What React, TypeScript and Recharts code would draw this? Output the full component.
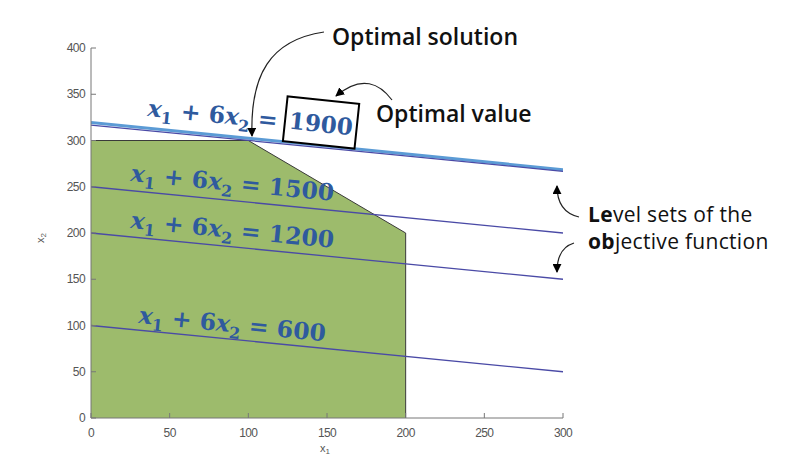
import React from "react";
import { ComposedChart, Line, Area, XAxis, YAxis } from "recharts";

const xTicks = [0, 50, 100, 150, 200, 250, 300];
const yTicks = [0, 50, 100, 150, 200, 250, 300, 350, 400];

const feasibleFill = [
  { x: 0, y: 300 },
  { x: 100, y: 300 },
  { x: 200, y: 200 },
];
const feasibleEdge = [
  { x: 0, y: 300 },
  { x: 100, y: 300 },
  { x: 200, y: 200 },
  { x: 200, y: 0 },
];
const level600 = [
  { x: 0, y: 100 },
  { x: 300, y: 50 },
];
const level1200 = [
  { x: 0, y: 200 },
  { x: 300, y: 150 },
];
const level1500 = [
  { x: 0, y: 250 },
  { x: 300, y: 200 },
];
const level1900 = [
  { x: 0, y: 316.7 },
  { x: 300, y: 266.7 },
];
const level1900Highlight = [
  { x: 0, y: 319.5 },
  { x: 300, y: 268.5 },
];

const levelLabels = [
  { c: "1500", x: 130, y: 181 },
  { c: "1200", x: 130, y: 228 },
  { c: "600", x: 138, y: 323 },
];

const AX = "#777777";
const TXT = "#555555";
const LINE = "#4a4aa6";
const MATH = "#2f5a9e";
const ANGLE = 5.6;

const XTick = (props: any) => {
  const { x, y, payload } = props;
  return (
    <g>
      <line x1={x} y1={y} x2={x} y2={y - 5} stroke={AX} strokeWidth={1} />
      <text x={x} y={y + 19} textAnchor="middle" fontSize={12} fill={TXT} fontFamily="Liberation Sans, Arial, sans-serif" letterSpacing={-0.6}>
        {payload.value}
      </text>
    </g>
  );
};

const YTick = (props: any) => {
  const { x, y, payload } = props;
  return (
    <g>
      <line x1={x} y1={y} x2={x + 5} y2={y} stroke={AX} strokeWidth={1} />
      <text x={x - 6} y={y + 4} textAnchor="end" fontSize={12} fill={TXT} fontFamily="Liberation Sans, Arial, sans-serif" letterSpacing={-0.6}>
        {payload.value}
      </text>
    </g>
  );
};

const MathLabel = ({ x, y, c, withEq = true }: { x: number; y: number; c?: string; withEq?: boolean }) => (
  <text
    x={x}
    y={y}
    transform={`rotate(${ANGLE} ${x} ${y})`}
    fill={MATH}
    fontFamily="DejaVu Serif, serif"
    fontWeight="bold"
    fontSize={23.5}
  >
    <tspan fontStyle="italic">x</tspan>
    <tspan fontSize={16} dy={6}>1</tspan>
    <tspan dy={-6}> + 6</tspan>
    <tspan fontStyle="italic">x</tspan>
    <tspan fontSize={16} dy={6}>2</tspan>
    <tspan dy={-6}>{withEq ? " = " : ""}</tspan>
    {c ? <tspan>{c}</tspan> : null}
  </text>
);

const SANS = "Open Sans, Noto Sans, sans-serif";

export default function App() {
  return (
    <div style={{ position: "absolute", left: 0, top: 0, width: 795, height: 458, background: "#fff" }}>
      <ComposedChart width={795} height={458} margin={{ top: 48, right: 232, bottom: 10, left: 51 }}>
        <XAxis
          type="number"
          dataKey="x"
          domain={[0, 300]}
          ticks={xTicks}
          height={30}
          tickSize={0}
          tickMargin={0}
          tick={<XTick />}
          axisLine={{ stroke: AX }}
          allowDataOverflow
        />
        <YAxis
          type="number"
          dataKey="y"
          domain={[0, 400]}
          ticks={yTicks}
          width={40}
          tickSize={0}
          tickMargin={0}
          tick={<YTick />}
          axisLine={{ stroke: AX }}
          allowDataOverflow
        />
        <Area
          data={feasibleFill}
          dataKey="y"
          type="linear"
          fill="#9dbb6c"
          fillOpacity={1}
          stroke="none"
          isAnimationActive={false}
        />
        <Line data={feasibleEdge} dataKey="y" type="linear" stroke="#3a3a3a" strokeWidth={1} dot={false} isAnimationActive={false} />
        <Line data={level600} dataKey="y" type="linear" stroke={LINE} strokeWidth={1.3} dot={false} isAnimationActive={false} />
        <Line data={level1200} dataKey="y" type="linear" stroke={LINE} strokeWidth={1.3} dot={false} isAnimationActive={false} />
        <Line data={level1500} dataKey="y" type="linear" stroke={LINE} strokeWidth={1.3} dot={false} isAnimationActive={false} />
        <Line data={level1900Highlight} dataKey="y" type="linear" stroke="#5b9bd5" strokeWidth={3} dot={false} isAnimationActive={false} />
        <Line data={level1900} dataKey="y" type="linear" stroke={LINE} strokeWidth={1.2} dot={false} isAnimationActive={false} />
      </ComposedChart>
      <svg width={795} height={458} style={{ position: "absolute", left: 0, top: 0, pointerEvents: "none" }}>
        <defs>
          <marker id="ah" viewBox="0 0 10 10" refX="9" refY="5" markerWidth="9" markerHeight="9" markerUnits="userSpaceOnUse" orient="auto">
            <path d="M0,0 L10,5 L0,10 z" fill="#000" />
          </marker>
        </defs>
        {/* axis titles */}
        <text x={44} y={238} transform="rotate(-90 44 238)" fontSize={11} fill={TXT} fontFamily="Liberation Sans, Arial, sans-serif" textAnchor="middle">
          x<tspan fontSize={8} dy={2}>2</tspan>
        </text>
        <text x={325} y={452} fontSize={11} fill={TXT} fontFamily="Liberation Sans, Arial, sans-serif" textAnchor="middle">
          x<tspan fontSize={8} dy={2}>1</tspan>
        </text>
        {/* level set labels */}
        {levelLabels.map((l) => (
          <MathLabel key={l.c} x={l.x} y={l.y} c={l.c} />
        ))}
        <MathLabel x={147} y={116} withEq />
        {/* optimal value box */}
        <g transform="rotate(6 321 123)">
          <rect x={285} y={100} width={72} height={45} fill="#fff" stroke="#000" strokeWidth={2} />
          <text x={321} y={132} textAnchor="middle" fill={MATH} fontFamily="DejaVu Serif, serif" fontWeight="bold" fontSize={23}>
            1900
          </text>
        </g>
        {/* annotations */}
        <text x={332} y={45} fontFamily={SANS} fontWeight={600} fontSize={23} fill="#111">
          Optimal solution
        </text>
        <text x={376} y={122} fontFamily={SANS} fontWeight={600} fontSize={23} fill="#111">
          Optimal value
        </text>
        <text x={588} y={222} fontFamily={SANS} fontWeight={500} fontSize={21} letterSpacing={0.3} fill="#111">
          <tspan fontWeight={700}>Le</tspan>vel sets of the
        </text>
        <text x={588} y={249} fontFamily={SANS} fontWeight={500} fontSize={21} letterSpacing={0.3} fill="#111">
          <tspan fontWeight={700}>ob</tspan>jective function
        </text>
        {/* arrows */}
        <path d="M 324 32 C 270 40, 250 75, 252 136" fill="none" stroke="#222" strokeWidth={1.2} markerEnd="url(#ah)" />
        <path d="M 392 100 C 380 84, 362 74, 336 96" fill="none" stroke="#222" strokeWidth={1.2} markerEnd="url(#ah)" />
        <path d="M 579 217 C 566 214, 557 205, 557 186" fill="none" stroke="#222" strokeWidth={1.2} markerEnd="url(#ah)" />
        <path d="M 574 243 C 564 246, 557 255, 557 272" fill="none" stroke="#222" strokeWidth={1.2} markerEnd="url(#ah)" />
      </svg>
    </div>
  );
}
